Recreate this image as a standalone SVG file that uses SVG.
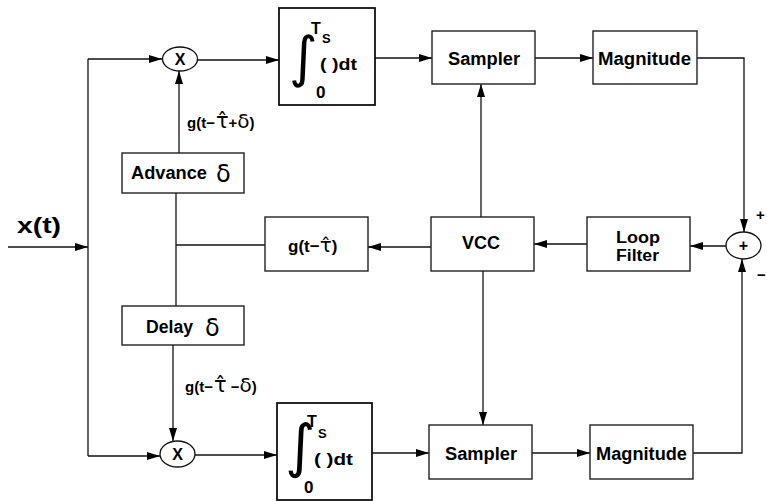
<svg xmlns="http://www.w3.org/2000/svg" width="767" height="501" viewBox="0 0 767 501">
<defs>
<marker id="ah" viewBox="0 0 13 8" refX="13" refY="4" markerWidth="13" markerHeight="8" markerUnits="userSpaceOnUse" orient="auto">
<path d="M0,0 L13,4 L0,8 Z" fill="#000"/>
</marker>
</defs>
<style>
.box{fill:#fff;stroke:#222;stroke-width:1.4}
.ibox{fill:#fff;stroke:#111;stroke-width:1.8}
.el{fill:#fff;stroke:#111;stroke-width:1.3}
.t{font-family:"Liberation Sans",Arial,sans-serif;font-weight:bold;font-size:18px;fill:#000}
.lbl{font-family:"Liberation Sans",Arial,sans-serif;font-weight:bold;font-size:15px;fill:#000}
.c{fill:none;stroke:#111;stroke-width:1.3}
.a{marker-end:url(#ah)}
.int{font-family:"DejaVu Sans",sans-serif;font-size:55px;fill:#000}
.d{font-family:"DejaVu Sans",sans-serif;font-weight:normal;font-size:22px;fill:#000}
.g{font-family:"DejaVu Sans",sans-serif;font-weight:normal;fill:#000}
</style>
<rect width="767" height="501" fill="#fff"/>
<g id="connectors">
<line class="c a" x1="8" y1="247" x2="88" y2="247"/>
<line class="c" x1="88" y1="59" x2="88" y2="456"/>
<line class="c a" x1="88" y1="59" x2="162" y2="59"/>
<line class="c a" x1="88" y1="456" x2="160" y2="456"/>
<line class="c a" x1="198" y1="60" x2="279" y2="60"/>
<line class="c a" x1="375" y1="58" x2="432" y2="58"/>
<line class="c a" x1="535" y1="58" x2="593" y2="58"/>
<polyline class="c a" points="697,58 744,58 744,232"/>
<line class="c a" x1="726" y1="246" x2="690" y2="246"/>
<line class="c a" x1="587" y1="244" x2="534" y2="244"/>
<line class="c a" x1="481" y1="217" x2="481" y2="84"/>
<line class="c a" x1="483" y1="271" x2="483" y2="425"/>
<line class="c a" x1="431" y1="247" x2="368" y2="247"/>
<line class="c" x1="265" y1="245" x2="176" y2="245"/>
<line class="c" x1="176" y1="193" x2="176" y2="306"/>
<line class="c a" x1="179" y1="153" x2="179" y2="71"/>
<line class="c a" x1="173" y1="345" x2="173" y2="441"/>
<line class="c a" x1="195" y1="455" x2="277" y2="455"/>
<line class="c a" x1="372" y1="453" x2="429" y2="453"/>
<line class="c a" x1="532" y1="453" x2="590" y2="453"/>
<polyline class="c a" points="693,453 742,453 742,259"/>
</g>
<g id="input-label"><text class="t" x="17" y="233" style="font-size:22px" textLength="44" lengthAdjust="spacingAndGlyphs">x(t)</text></g>
<g id="mult-top"><ellipse class="el" cx="180" cy="59" rx="17.5" ry="12"/><text class="t" x="180" y="65" text-anchor="middle" style="font-size:16px">X</text></g>
<g id="mult-bot"><ellipse class="el" cx="177.5" cy="454" rx="17.5" ry="13"/><text class="t" x="177.5" y="460" text-anchor="middle" style="font-size:16px">X</text></g>
<g id="int-top">
<rect class="ibox" x="279" y="8" width="96" height="97"/>
<text class="int" x="289" y="76">∫</text>
<text class="lbl" x="311" y="34" style="font-size:16px">T</text>
<text class="lbl" x="322" y="43" style="font-size:13px">S</text>
<text class="lbl" x="320" y="70" style="font-size:16px" textLength="37" lengthAdjust="spacingAndGlyphs">( )dt</text>
<text class="lbl" x="316" y="98" style="font-size:17px">0</text>
</g>
<g id="int-bot">
<rect class="ibox" x="277" y="403" width="95" height="97"/>
<text class="int" x="285" y="466" style="font-size:58px">∫</text>
<text class="lbl" x="307" y="427" style="font-size:16px">T</text>
<text class="lbl" x="318" y="438" style="font-size:13px">S</text>
<text class="lbl" x="314" y="465" style="font-size:16px" textLength="39" lengthAdjust="spacingAndGlyphs">( )dt</text>
<text class="lbl" x="304" y="493" style="font-size:17px">0</text>
</g>
<g id="sampler-top"><rect class="box" x="432" y="31" width="103" height="53"/><text class="t" x="448" y="65" textLength="72" lengthAdjust="spacingAndGlyphs">Sampler</text></g>
<g id="magnitude-top"><rect class="box" x="593" y="31" width="104" height="53"/><text class="t" x="598" y="65" textLength="93" lengthAdjust="spacingAndGlyphs">Magnitude</text></g>
<g id="sampler-bot"><rect class="box" x="429" y="425" width="103" height="54"/><text class="t" x="445" y="460" textLength="72" lengthAdjust="spacingAndGlyphs">Sampler</text></g>
<g id="magnitude-bot"><rect class="box" x="590" y="425" width="103" height="54"/><text class="t" x="596" y="460" textLength="91" lengthAdjust="spacingAndGlyphs">Magnitude</text></g>
<g id="vcc"><rect class="box" x="431" y="217" width="103" height="54"/><text class="t" x="462" y="249" textLength="38" lengthAdjust="spacingAndGlyphs">VCC</text></g>
<g id="loop-filter"><rect class="box" x="587" y="217" width="103" height="54"/><text class="t" x="616" y="243" style="font-size:16px" textLength="44" lengthAdjust="spacingAndGlyphs">Loop</text><text class="t" x="616" y="261" style="font-size:16px" textLength="43" lengthAdjust="spacingAndGlyphs">Filter</text></g>
<g id="sum"><ellipse class="el" cx="743.5" cy="245.5" rx="17.5" ry="13.5"/><text class="t" x="743.5" y="251" text-anchor="middle" style="font-size:16px">+</text></g>
<g id="sum-signs"><text class="lbl" x="756" y="220">+</text><text class="lbl" x="757" y="280">−</text></g>
<g id="g-box"><rect class="box" x="265" y="217" width="103" height="54"/><text class="t" x="288" y="252" style="font-size:17px">g(t−<tspan class="g" style="font-size:20px">τ̂</tspan>)</text></g>
<g id="advance"><rect class="box" x="122" y="153" width="122" height="40"/><text class="t" x="131" y="179" textLength="76" lengthAdjust="spacingAndGlyphs">Advance</text><text class="d" x="216" y="182" style="font-size:24px">δ</text></g>
<g id="delay"><rect class="box" x="122" y="306" width="122" height="39"/><text class="t" x="146" y="333" textLength="47" lengthAdjust="spacingAndGlyphs">Delay</text><text class="d" x="205" y="336" style="font-size:24px">δ</text></g>
<g id="label-adv"><text class="lbl" x="187" y="128">g(t−<tspan class="g" style="font-size:21px" dx="1">τ̂</tspan>+<tspan class="g" style="font-size:20px">δ</tspan>)</text></g>
<g id="label-del"><text class="lbl" x="185" y="392">g(t−<tspan class="g" style="font-size:21px" dx="1">τ̂</tspan> −<tspan class="g" style="font-size:20px">δ</tspan>)</text></g>
</svg>
